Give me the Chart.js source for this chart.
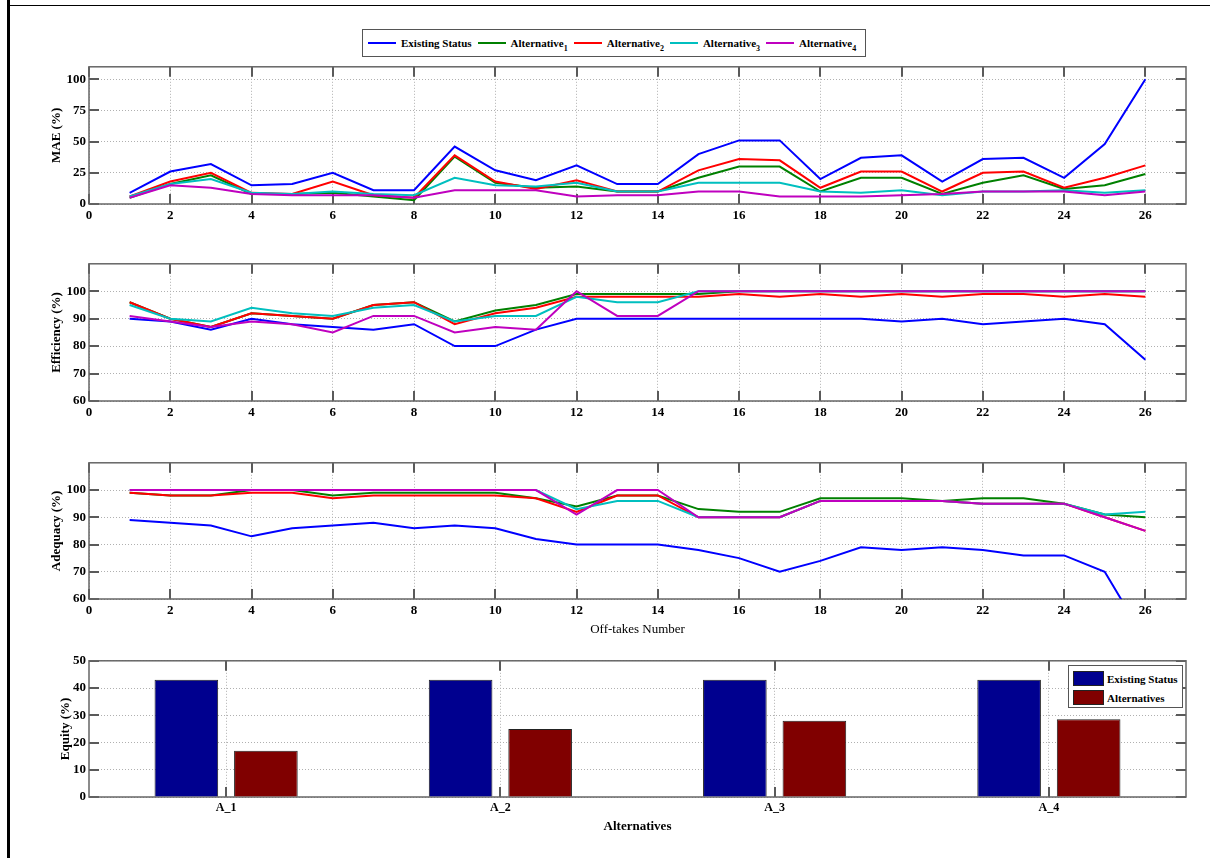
<!DOCTYPE html>
<html>
<head>
<meta charset="utf-8">
<script src="https://cdn.jsdelivr.net/npm/chart.js@4"></script>
<style>
  html, body { margin: 0; padding: 0; background: #fff; }
  #fig { position: relative; width: 1210px; height: 858px; overflow: hidden; background: #fff; }
  #fig canvas { position: absolute; left: 0; }
  .frameL { position: absolute; left: 7px; top: 0; width: 3px; height: 858px; background: #000; }
  .frameT { position: absolute; left: 7px; top: 5px; width: 1203px; height: 1px; background: #000; }
  .lgd { position: absolute; background: #fff; border: 1.5px solid #555; box-sizing: border-box;
         font: bold 11px 'Liberation Serif', 'Times New Roman', serif; color: #000; }
  #topLegend { left: 362px; top: 29px; width: 504px; height: 28px; display: flex; align-items: center; padding-left: 5px; }
  #topLegend .item { display: flex; align-items: center; margin-right: 6px; white-space: nowrap; }
  #topLegend .line { width: 28px; height: 2px; margin-right: 5px; }
  #topLegend sub { font-size: 8px; position: relative; top: 4px; vertical-align: baseline; line-height: 0; }
  #eqLegend { left: 1068px; top: 665px; width: 115px; height: 43px; padding: 3px 0 0 4px; }
  #eqLegend .item { display: flex; align-items: center; height: 19px; white-space: nowrap; }
  #eqLegend .sw { width: 29px; height: 13px; border: 1px solid #222; margin-right: 3px; }
</style>
</head>
<body>
<div id="fig">
  <div class="frameL"></div>
  <div class="frameT"></div>
  <canvas id="cMae" width="1210" height="180" style="top:56px"></canvas>
  <canvas id="cEff" width="1210" height="180" style="top:253px"></canvas>
  <canvas id="cAdq" width="1210" height="192" style="top:452px"></canvas>
  <canvas id="cEq" width="1210" height="192" style="top:650px"></canvas>
  <div id="topLegend" class="lgd"></div>
  <div id="eqLegend" class="lgd"></div>
</div>
<script>
// off-takes and tick labels
var offtakes = [1,2,3,4,5,6,7,8,9,10,11,12,13,14,15,16,17,18,19,20,21,22,23,24,25,26];
var xTicks = [0,2,4,6,8,10,12,14,16,18,20,22,24,26];
var maeTicks = [0,25,50,75,100];
var pctTicks = [60,70,80,90,100];
var equityTicks = [0,10,20,30,40,50];

var seriesNames = ['Existing Status','Alternative','Alternative','Alternative','Alternative'];
var seriesSubs = ['','1','2','3','4'];
var seriesColors = ['#0000ff','#008000','#ff0000','#00bfbf','#bf00bf'];

// MAE (%)
var maeExisting = [9,26,32,15,16,25,11,11,46,27,19,31,16,16,40,51,51,20,37,39,18,36,37,21,48,100];
var maeAlt1     = [5,16,23,8,8,9,6,3,38,17,13,14,10,10,21,30,30,10,21,21,8,17,23,12,15,24];
var maeAlt2     = [6,18,25,9,8,18,7,5,39,18,12,19,10,10,27,36,35,13,26,26,10,25,26,13,21,31];
var maeAlt3     = [6,16,20,9,8,10,8,7,21,15,14,17,10,10,17,17,17,10,9,11,7,10,10,11,9,11];
var maeAlt4     = [5,15,13,8,7,7,7,5,11,11,11,6,7,7,10,10,6,6,6,7,8,10,10,10,7,10];

// Efficiency (%)
var effExisting = [90,89,86,90,88,87,86,88,80,80,86,90,90,90,90,90,90,90,90,89,90,88,89,90,88,75];
var effAlt1     = [96,90,87,92,91,90,95,96,89,93,95,99,99,99,99,100,100,100,100,100,100,100,100,100,100,100];
var effAlt2     = [96,90,87,92,91,90,95,96,88,92,94,98,98,98,98,99,98,99,98,99,98,99,99,98,99,98];
var effAlt3     = [95,90,89,94,92,91,94,95,89,91,91,98,96,96,100,100,100,100,100,100,100,100,100,100,100,100];
var effAlt4     = [91,89,87,89,88,85,91,91,85,87,86,100,91,91,100,100,100,100,100,100,100,100,100,100,100,100];

// Adequacy (%)
var adqExisting = [89,88,87,83,86,87,88,86,87,86,82,80,80,80,78,75,70,74,79,78,79,78,76,76,70,45];
var adqAlt1     = [99,98,98,100,100,98,99,99,99,99,97,94,98,98,93,92,92,97,97,97,96,97,97,95,91,90];
var adqAlt2     = [99,98,98,99,99,97,98,98,98,98,97,92,98,98,90,90,90,96,96,96,96,95,95,95,90,85];
var adqAlt3     = [100,100,100,100,100,100,100,100,100,100,100,93,96,96,90,90,90,96,96,96,96,95,95,95,91,92];
var adqAlt4     = [100,100,100,100,100,100,100,100,100,100,100,91,100,100,90,90,90,96,96,96,96,95,95,95,90,85];

// Equity (%)
var altLabels = ['A_1','A_2','A_3','A_4'];
var equityExisting = [43,43,43,43];
var equityAlternatives = [17,25,28,28.5];
var equityNames = ['Existing Status','Alternatives'];
var equityColors = ['#00008f','#800000'];

Chart.defaults.font.family = "'Liberation Serif', 'Times New Roman', serif";
Chart.defaults.color = '#000';

// matlab style box with inward tick marks on all four sides
var axesBox = {
  id: 'axesBox',
  beforeDatasetsDraw: function(chart) {
    var ctx = chart.ctx, a = chart.chartArea, x = chart.scales.x, y = chart.scales.y;
    ctx.save();
    ctx.strokeStyle = '#5a5a5a';
    ctx.lineWidth = 2;
    ctx.beginPath();
    x.ticks.forEach(function(t, i) {
      var px = Math.round(x.getPixelForTick(i));
      ctx.moveTo(px, a.bottom); ctx.lineTo(px, a.bottom - 10);
      ctx.moveTo(px, a.top); ctx.lineTo(px, a.top + 10);
    });
    y.ticks.forEach(function(t, i) {
      var py = Math.round(y.getPixelForTick(i));
      ctx.moveTo(a.left, py); ctx.lineTo(a.left + 10, py);
      ctx.moveTo(a.right, py); ctx.lineTo(a.right - 10, py);
    });
    ctx.stroke();
    ctx.lineWidth = 1.5;
    ctx.strokeStyle = '#666';
    ctx.strokeRect(a.left, a.top, a.right - a.left, a.bottom - a.top);
    ctx.restore();
  }
};

function fixedTicks(list) {
  return function(scale) {
    scale.ticks = list.map(function(v) { return {value: v}; });
  };
}

function lineSets(rows) {
  return rows.map(function(vals, i) {
    return {
      label: seriesNames[i] + (seriesSubs[i] ? ' ' + seriesSubs[i] : ''),
      data: vals.map(function(v, k) { return {x: offtakes[k], y: v}; }),
      borderColor: seriesColors[i],
      backgroundColor: seriesColors[i],
      borderWidth: 2,
      pointRadius: 0,
      fill: false,
      tension: 0,
      order: rows.length - i
    };
  });
}

var gridStyle = { color: '#b0b0b0', lineWidth: 1, drawTicks: false };
var gridBorder = { display: false, dash: [1, 2] };
var tickFont = { size: 13, weight: 'bold' };

function lineOptions(yMin, yMax, yTicks, yTitle, xTitle, xHeight) {
  return {
    responsive: false,
    animation: false,
    events: [],
    layout: { padding: { left: 46, right: 24, top: 10, bottom: 0 } },
    plugins: { legend: { display: false }, tooltip: { enabled: false } },
    scales: {
      x: {
        type: 'linear', min: 0, max: 27,
        afterBuildTicks: fixedTicks(xTicks),
        afterFit: function(s) { s.height = xHeight; },
        grid: gridStyle, border: gridBorder,
        ticks: { padding: 4, font: tickFont, maxRotation: 0, autoSkip: false },
        title: xTitle ? { display: true, text: xTitle, font: { size: 13 }, padding: { top: 0, bottom: 7 } } : { display: false }
      },
      y: {
        type: 'linear', min: yMin, max: yMax,
        afterBuildTicks: fixedTicks(yTicks),
        afterFit: function(s) { s.width = 43; },
        grid: gridStyle, border: gridBorder,
        ticks: { padding: 3, font: tickFont, autoSkip: false },
        title: { display: true, text: yTitle, font: { size: 13, weight: 'bold' }, padding: { top: 3, bottom: 0 } }
      }
    }
  };
}

new Chart(document.getElementById('cMae'), {
  type: 'line',
  data: { datasets: lineSets([maeExisting, maeAlt1, maeAlt2, maeAlt3, maeAlt4]) },
  options: lineOptions(0, 110, maeTicks, 'MAE (%)', null, 32),
  plugins: [axesBox]
});

new Chart(document.getElementById('cEff'), {
  type: 'line',
  data: { datasets: lineSets([effExisting, effAlt1, effAlt2, effAlt3, effAlt4]) },
  options: lineOptions(60, 110, pctTicks, 'Efficiency (%)', null, 32),
  plugins: [axesBox]
});

new Chart(document.getElementById('cAdq'), {
  type: 'line',
  data: { datasets: lineSets([adqExisting, adqAlt1, adqAlt2, adqAlt3, adqAlt4]) },
  options: lineOptions(60, 110, pctTicks, 'Adequacy (%)', 'Off-takes Number', 45),
  plugins: [axesBox]
});

new Chart(document.getElementById('cEq'), {
  type: 'bar',
  data: {
    labels: altLabels,
    datasets: [equityExisting, equityAlternatives].map(function(vals, i) {
      return {
        label: equityNames[i],
        data: vals,
        backgroundColor: equityColors[i],
        borderColor: '#222',
        borderWidth: 1,
        categoryPercentage: 0.58,
        barPercentage: 0.8
      };
    })
  },
  options: {
    responsive: false,
    animation: false,
    events: [],
    layout: { padding: { left: 55, right: 24, top: 10, bottom: 0 } },
    plugins: { legend: { display: false }, tooltip: { enabled: false } },
    scales: {
      x: {
        afterFit: function(s) { s.height = 45; },
        grid: { color: '#b0b0b0', lineWidth: 1, drawTicks: false, offset: false },
        border: gridBorder,
        ticks: { padding: 4, font: { size: 12, weight: 'bold' } },
        title: { display: true, text: 'Alternatives', font: { size: 13, weight: 'bold' }, padding: { top: 0, bottom: 8 } }
      },
      y: {
        min: 0, max: 50,
        afterBuildTicks: fixedTicks(equityTicks),
        afterFit: function(s) { s.width = 34; },
        grid: gridStyle, border: gridBorder,
        ticks: { padding: 3, font: tickFont },
        title: { display: true, text: 'Equity (%)', font: { size: 13, weight: 'bold' }, padding: { top: 3, bottom: 0 } }
      }
    }
  },
  plugins: [axesBox]
});

// legends built from the series arrays
var topLgd = document.getElementById('topLegend');
seriesNames.forEach(function(name, i) {
  var item = document.createElement('div');
  item.className = 'item';
  item.innerHTML = '<span class="line" style="background:' + seriesColors[i] + '"></span>' +
    '<span>' + name + (seriesSubs[i] ? '<sub>' + seriesSubs[i] + '</sub>' : '') + '</span>';
  topLgd.appendChild(item);
});
var eqLgd = document.getElementById('eqLegend');
equityNames.forEach(function(name, i) {
  var item = document.createElement('div');
  item.className = 'item';
  item.innerHTML = '<span class="sw" style="background:' + equityColors[i] + '"></span>' + name;
  eqLgd.appendChild(item);
});
</script>
</body>
</html>
